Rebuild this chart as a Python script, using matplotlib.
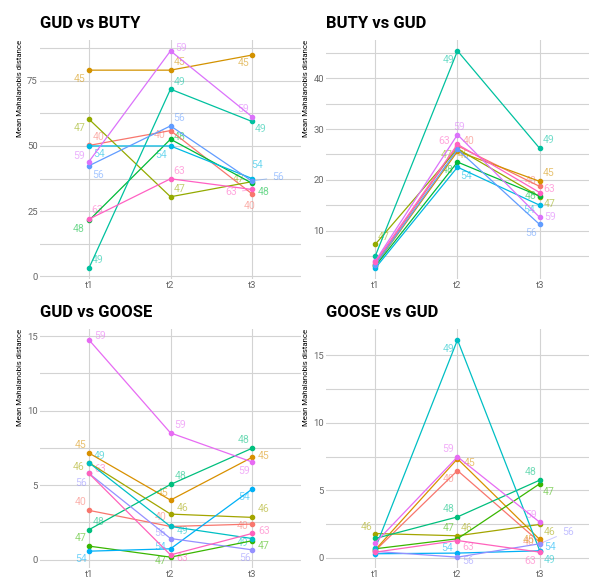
# paneles de distancia de Mahalanobis por sujeto y tiempo

import matplotlib.pyplot as plt
import numpy as np

plt.rcParams['font.family'] = ['Roboto', 'DejaVu Sans']

tiempos = ["t1", "t2", "t3"]

sujetos_9 = [40, 45, 47, 48, 49, 54, 56, 59, 63]
sujetos_10 = [40, 45, 46, 47, 48, 49, 54, 56, 59, 63]

colores_9 = ["#F8766D", "#D39200", "#93AA00", "#00BA38", "#00C19F",
             "#00B9E3", "#619CFF", "#DB72FB", "#FF61C3"]
colores_10 = ["#F8766D", "#D89000", "#A3A500", "#39B600", "#00BF7D",
              "#00BFC4", "#00B0F6", "#9590FF", "#E76BF3", "#FF62BC"]

gud_buty = {
    40: [50.2, 55.9, 31.6],
    45: [79.1, 79.1, 84.9],
    47: [60.3, 30.5, 36.3],
    48: [21.4, 52.6, 35.7],
    49: [3.1, 71.8, 59.4],
    54: [50.0, 50.0, 37.5],
    56: [42.4, 57.7, 36.5],
    59: [44.0, 86.5, 61.2],
    63: [21.9, 37.4, 33.3],
}

buty_gud = {
    40: [3.5, 26.7, 18.7],
    45: [3.2, 25.6, 19.7],
    47: [7.3, 26.1, 16.7],
    48: [3.0, 23.5, 16.8],
    49: [5.0, 45.4, 26.2],
    54: [2.6, 22.5, 15.0],
    56: [3.3, 26.0, 11.2],
    59: [4.0, 28.9, 12.6],
    63: [3.8, 27.0, 17.5],
}

gud_goose = {
    40: [3.3, 2.22, 2.38],
    45: [7.15, 3.99, 6.86],
    46: [6.5, 3.05, 2.83],
    47: [0.9, 0.16, 1.26],
    48: [2.0, 5.04, 7.47],
    49: [6.5, 2.22, 1.41],
    54: [0.56, 0.72, 4.73],
    56: [5.78, 1.41, 0.65],
    59: [14.75, 8.5, 6.55],
    63: [5.78, 0.31, 1.75],
}

goose_gud = {
    40: [0.54, 6.46, 1.16],
    45: [0.6, 7.33, 1.36],
    46: [1.80, 1.63, 2.47],
    47: [0.67, 1.41, 5.48],
    48: [1.43, 3.03, 5.75],
    49: [0.72, 16.14, 0.54],
    54: [0.30, 0.35, 0.52],
    56: [0.47, 0.05, 1.04],
    59: [1.11, 7.48, 2.64],
    63: [0.42, 1.28, 0.42],
}

# desplazamiento de cada etiqueta en pixeles (dx, dy hacia abajo); None = oculta
etiq_1 = {
    40: [(10, -8), (-11, 4), (-2, 12)],
    45: [(-9, 9), (9, -8), (-8, 8)],
    47: [(-9, 9), (9, -8), (-13, -3)],
    48: [(-10, 9), (9, -2), (12, 9)],
    49: [(9, -8), (9, -7), (9, 8)],
    54: [(10, 8), (-9, 9), (5, -14)],
    56: [(9, 9), (9, -8), (26, -4)],
    59: [(-10, -6), (11, -3), (-9, -8)],
    63: [(8, -9), (9, -8), (-21, 3)],
}
etiq_2 = {
    40: [None, (11, -5), (-9, -5)],
    45: [None, (6, 4), (9, -8)],
    47: [(8, -7), (-11, 6), (10, 7)],
    48: [None, (-10, 8), (-9, 0)],
    49: [None, (-9, 9), (9, -8)],
    54: [None, (9, 9), (-11, 5)],
    56: [None, None, (-9, 9)],
    59: [None, (2, -8), (10, 0)],
    63: [None, (-13, -3), (10, -4)],
}
etiq_3 = {
    40: [(-8, -8), (-10, -9), (-9, 2)],
    45: [(-8, -8), (-8, -7), (12, -1)],
    46: [(-10, 4), (12, -6), (12, -8)],
    47: [(-8, -8), (-10, 4), (12, 5)],
    48: [(10, -8), (10, -8), (-8, -8)],
    49: [(11, -7), (12, 5), (-9, 4)],
    54: [(-8, 8), (-10, -2), (-8, 8)],
    56: [(-8, 10), (-10, -6), (-7, 8)],
    59: [(11, -4), (10, -8), (-8, 9)],
    63: [(11, -4), (12, 3), (12, -2)],
}
etiq_4 = {
    40: [None, (-9, 8), (-11, 0)],
    45: [None, (12, 4), (-11, 1)],
    46: [(-9, -7), (9, -8), (10, 8)],
    47: [None, (-9, -11), (9, 8)],
    48: [None, (-9, -8), (-9, -8)],
    49: [None, (-9, 9), (10, 9)],
    54: [None, (-10, -5), (10, -4)],
    56: [None, (11, 4), (28, -12)],
    59: [None, (-9, -8), (-9, -7)],
    63: [None, (11, 6), (-9, 9)],
}


def panel(ax, titulo, datos, sujetos, colores, etiquetas, mayores, menores):
    x = np.arange(len(tiempos))
    for s, c in zip(sujetos, colores):
        y = datos[s]
        ax.plot(x, y, color=c, lw=0.9, marker="o", ms=3.0, zorder=3)
        for i in range(len(x)):
            d = etiquetas[s][i]
            if d is None:
                continue
            lejos = (d[0] ** 2 + d[1] ** 2) ** 0.5 > 15
            ax.annotate(str(s), (x[i], y[i]), xytext=(d[0], -d[1]),
                        textcoords="offset pixels", ha="center", va="center",
                        fontsize=7.6, color=c, alpha=0.55, zorder=2,
                        arrowprops=dict(arrowstyle="-", color=c, alpha=0.5, lw=0.7,
                                        shrinkA=2, shrinkB=2) if lejos else None)
    ax.set_xlim(-0.6, 2.6)
    ax.margins(y=0.05)
    ax.set_xticks(x)
    ax.set_xticklabels(tiempos)
    ax.set_yticks(mayores)
    ax.set_yticks(menores, minor=True)
    ax.grid(True, which="both", color="#d3d3d3", lw=0.8)
    ax.set_axisbelow(True)
    for sp in ax.spines.values():
        sp.set_visible(False)
    ax.tick_params(which="both", length=0, pad=1.5, labelsize=6.8, labelcolor="#666666")
    ax.set_ylabel("Mean Mahalanobis distance", fontsize=5.6, loc="top", labelpad=3)
    ax.set_title(titulo, loc="left", fontsize=12, fontweight="bold", pad=8.5)


fig = plt.figure(figsize=(5.9, 5.79), dpi=100)
ax1 = fig.add_axes([0.0678, 0.5181, 0.4424, 0.4128])
ax2 = fig.add_axes([0.5525, 0.5181, 0.4458, 0.4128])
ax3 = fig.add_axes([0.0678, 0.0190, 0.4424, 0.4128])
ax4 = fig.add_axes([0.5525, 0.0190, 0.4458, 0.4128])

panel(ax1, "GUD vs BUTY", gud_buty, sujetos_9, colores_9, etiq_1,
      [0, 25, 50, 75], [12.5, 37.5, 62.5, 87.5])
panel(ax2, "BUTY vs GUD", buty_gud, sujetos_9, colores_9, etiq_2,
      [10, 20, 30, 40], [5, 15, 25, 35, 45])
panel(ax3, "GUD vs GOOSE", gud_goose, sujetos_10, colores_10, etiq_3,
      [0, 5, 10, 15], [2.5, 7.5, 12.5])
panel(ax4, "GOOSE vs GUD", goose_gud, sujetos_10, colores_10, etiq_4,
      [0, 5, 10, 15], [2.5, 7.5, 12.5])

plt.savefig("out.png", dpi=100)
